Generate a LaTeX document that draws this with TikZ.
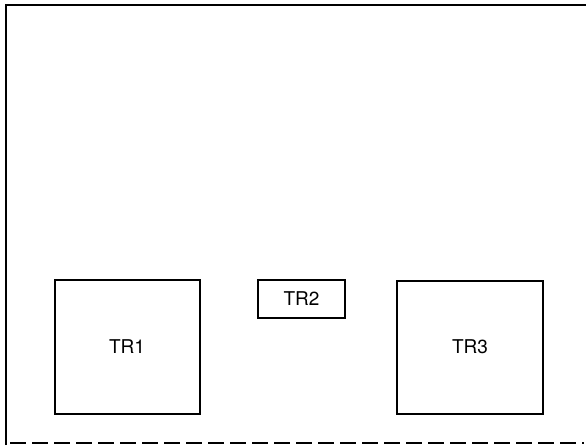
\documentclass[tikz,border=0pt]{standalone}
\usepackage{fontspec}
\setmainfont{TeX Gyre Heros}

\begin{document}
\begin{tikzpicture}[x=1pt,y=-1pt,
    trbox/.style={draw,line width=2pt,inner sep=0pt,font=\fontsize{19}{22}\selectfont}]
        \useasboundingbox (0,0) rectangle (586,445);
        \draw[line width=2pt] (6,445) -- (6,5) -- (586,5);
        \draw[line width=1.2pt,dash pattern=on 16pt off 6pt] (10,443) -- (584,443);
        \node[trbox,minimum width=145pt,minimum height=134pt] (tr1) at (127,347) {TR1};
        \node[trbox,minimum width=87pt,minimum height=38pt] (tr2) at (301.5,299) {TR2};
        \node[trbox,minimum width=146pt,minimum height=133pt] (tr3) at (470,347) {TR3};
      \end{tikzpicture}
\end{document}
